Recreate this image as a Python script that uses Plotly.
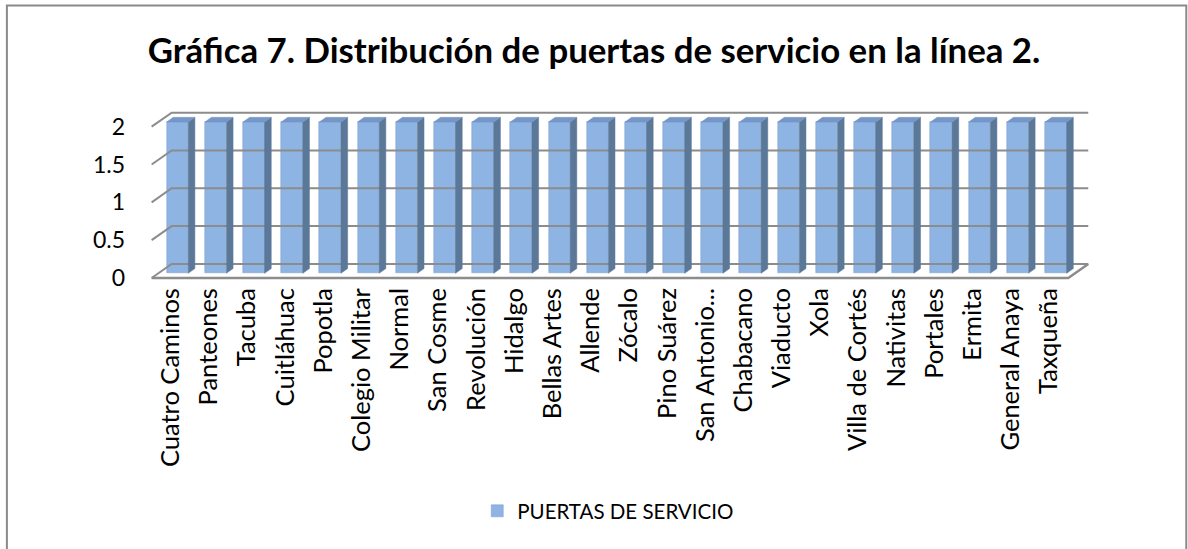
import plotly.graph_objects as go

# ---------------- data ----------------
stations = ["Cuatro Caminos", "Panteones", "Tacuba", "Cuitláhuac", "Popotla",
            "Colegio Militar", "Normal", "San Cosme", "Revolución", "Hidalgo",
            "Bellas Artes", "Allende", "Zócalo", "Pino Suárez", "San Antonio...",
            "Chabacano", "Viaducto", "Xola", "Villa de Cortés", "Nativitas",
            "Portales", "Ermita", "General Anaya", "Taxqueña"]
puertas = [2, 2, 2, 2, 2, 2, 2, 2, 2, 2, 2, 2,
           2, 2, 2, 2, 2, 2, 2, 2, 2, 2, 2, 2]
y_ticks = [0, 0.5, 1, 1.5, 2]
series_name = "PUERTAS DE SERVICIO"
title_text = "Gráfica 7. Distribución de puertas de servicio en la línea 2."

# ---------------- geometry (pseudo-3D) ----------------
W, H = 1188, 549
PX_X = 38.18          # px per category
PX_Y = 75.5           # px per y unit
X0_PX, Y0_PX = 151.7, 278.0   # front-left floor corner
XR = [-0.7, 24.2]
YR = [-0.04, 2.26]
ml = X0_PX + (XR[0] + 0.5) * PX_X
plot_w = (XR[1] - XR[0]) * PX_X
mr = W - ml - plot_w
mt = Y0_PX - YR[1] * PX_Y
mb = H - (Y0_PX - YR[0] * PX_Y)

DX = 20 / PX_X        # full depth, x units
DY = 14 / PX_Y        # full depth, y units
bdx, bdy = DX / 3, DY / 3   # bar front plane shift and bar depth
bw = 21.6 / PX_X            # bar front width
n = len(stations)
xl_all, xr_all = -0.5, n - 0.5

FRONT = "#8EB4E3"
SIDE = "#5B7899"
TOP = "#7596C6"
GRID = "#8C8C8C"

fig = go.Figure()

# back wall gridlines + left diagonal ticks
gx, gy = [], []
for v in y_ticks:
    gx += [xl_all, xl_all + DX, xr_all + DX, None]
    gy += [v, v + DY, v + DY, None]
fig.add_trace(go.Scatter(x=gx, y=gy, mode="lines", line=dict(color=GRID, width=2),
                         hoverinfo="skip", showlegend=False))
# floor outline
fig.add_trace(go.Scatter(x=[xl_all, xr_all, xr_all + DX], y=[0, 0, DY], mode="lines",
                         line=dict(color=GRID, width=2.5), hoverinfo="skip", showlegend=False))

# front faces
xc = [i + bdx for i in range(n)]
fig.add_trace(go.Bar(x=xc, y=puertas, base=[bdy] * n, width=bw, name=series_name,
                     marker=dict(color=FRONT, line=dict(color="#7A9CC8", width=0.5)),
                     showlegend=True))

# side and top faces
sx, sy, tx, ty = [], [], [], []
for i, v in enumerate(puertas):
    a = i + bdx - bw / 2
    b = i + bdx + bw / 2
    y0 = bdy
    y1 = bdy + v
    sx += [b, b + bdx, b + bdx, b, b, None]
    sy += [y0, y0 + bdy, y1 + bdy, y1, y0, None]
    tx += [a, b, b + bdx, a + bdx, a, None]
    ty += [y1, y1, y1 + bdy, y1 + bdy, y1, None]
fig.add_trace(go.Scatter(x=sx, y=sy, mode="lines", fill="toself", fillcolor=SIDE,
                         line=dict(color=SIDE, width=0.5), hoverinfo="skip", showlegend=False))
fig.add_trace(go.Scatter(x=tx, y=ty, mode="lines", fill="toself", fillcolor=TOP,
                         line=dict(color=TOP, width=0.5), hoverinfo="skip", showlegend=False))

FONT = "Lato, 'Open Sans', sans-serif"

# border (chart area outline)
def px2paper_x(px):
    return (px - ml) / plot_w

def px2paper_y(py):
    return (H - mb - py) / (H - mt - mb)

fig.add_shape(type="rect", xref="paper", yref="paper",
              x0=px2paper_x(7), x1=px2paper_x(1186), y0=px2paper_y(570), y1=px2paper_y(6),
              line=dict(color="#8A8A8A", width=2), fillcolor="rgba(0,0,0,0)", layer="below")

fig.update_layout(
    width=W, height=H,
    margin=dict(l=ml, r=mr, t=mt, b=mb, autoexpand=False),
    paper_bgcolor="white", plot_bgcolor="white",
    font=dict(family=FONT, color="black"),
    title=dict(text="<b>" + title_text + "</b>", xref="container", yref="container",
               x=0.5, xanchor="center", y=1 - 51 / H, yanchor="middle",
               font=dict(size=34.8, family=FONT, color="black")),
    xaxis=dict(range=XR, tickmode="array", tickvals=list(range(n)), ticktext=stations,
               tickangle=-90, showgrid=False, zeroline=False, showline=False, ticks="",
               tickfont=dict(size=25.5, family=FONT), ticklabelstandoff=1, fixedrange=True),
    yaxis=dict(range=YR, tickmode="array", tickvals=y_ticks,
               ticktext=[f"{v:g}" for v in y_ticks],
               showgrid=False, zeroline=False, showline=False, ticks="",
               tickfont=dict(size=23, family=FONT), ticklabelstandoff=18, fixedrange=True),
    legend=dict(xref="container", yref="container", x=0.512, xanchor="center",
                y=1 - 511 / H, yanchor="middle", orientation="h",
                font=dict(size=20.5, family=FONT), bgcolor="rgba(0,0,0,0)"),
    bargap=0,
    showlegend=True,
)

fig.write_html("out.html", post_script="document.body.style.margin='0';",
               config={"displayModeBar": False})
